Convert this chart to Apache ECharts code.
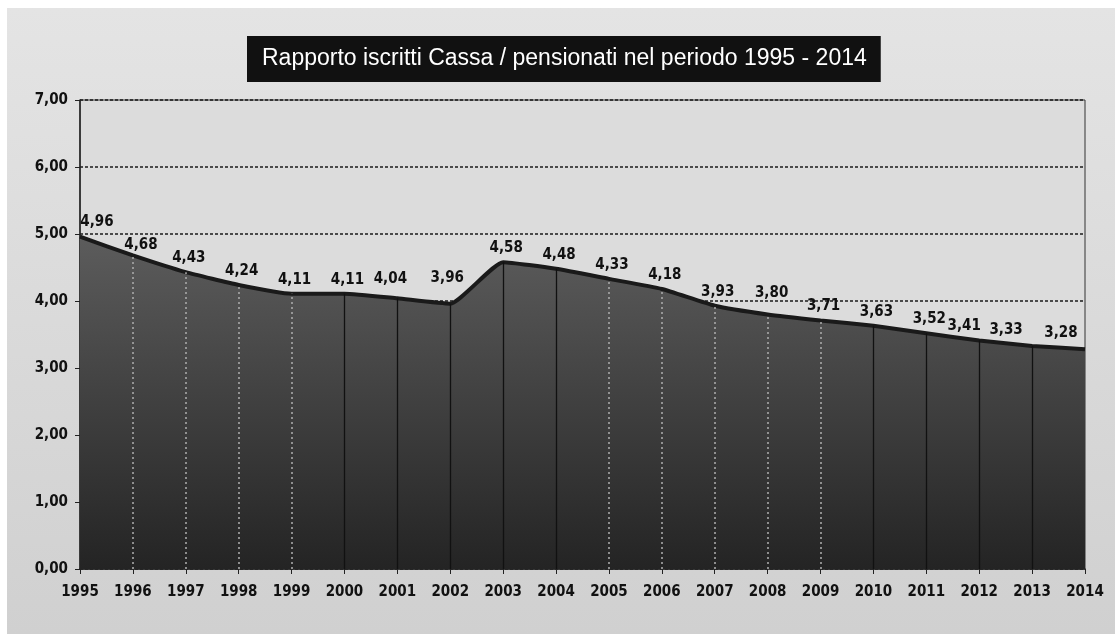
<!DOCTYPE html>
<html>
<head>
<meta charset="utf-8">
<script src="https://cdn.jsdelivr.net/npm/echarts@6/dist/echarts.min.js"></script>
<style>
  html, body { margin: 0; padding: 0; background: #fff; }
  #main { width: 1115px; height: 634px; }
</style>
</head>
<body>
<div id="main"></div>
<script>
// dati: rapporto iscritti / pensionati
var anni = ['1995','1996','1997','1998','1999','2000','2001','2002','2003','2004',
            '2005','2006','2007','2008','2009','2010','2011','2012','2013','2014'];
var rapporto = [4.96, 4.68, 4.43, 4.24, 4.11, 4.11, 4.04, 3.96, 4.58, 4.48,
                4.33, 4.18, 3.93, 3.80, 3.71, 3.63, 3.52, 3.41, 3.33, 3.28];
var yTicks = [0, 1, 2, 3, 4, 5, 6, 7];

var fontLbl = "'DejaVu Sans Condensed', 'DejaVu Sans', sans-serif";
function virgola(v) { return Number(v).toFixed(2).replace('.', ','); }

// anni con linea verticale tratteggiata chiara (gli altri pieni scuri)
var tratteggiati = ['1996','1997','1998','1999','2005','2006','2007','2008','2009'];

// etichette spostate come nell'originale (excel le sposta per non sovrapporle)
var spostamenti = {
    '1995': [17, -1], '1996': [8, 4], '2001': [-7, -5], '2002': [-3, -12],
    '2008': [4, -7], '2012': [-15, 0], '2013': [-26, -2], '2014': [-24, -2]
};

var drop = [];
for (var i = 1; i < anni.length - 1; i++) {
    var dotted = tratteggiati.indexOf(anni[i]) >= 0;
    drop.push([
        { coord: [anni[i], 0], lineStyle: dotted ? { color: '#a8a8a8', type: [2, 3], width: 1.6 } : { color: '#111', type: 'solid', width: 1.3 } },
        { coord: [anni[i], rapporto[i]] }
    ]);
}

var punti = rapporto.map(function (v, i) {
    var off = spostamenti[anni[i]];
    if (off) return { value: v, label: { offset: off } };
    return v;
});

var chart = echarts.init(document.getElementById('main'));
var option = {
    backgroundColor: '#ffffff',
    animation: false,
    graphic: [{
        type: 'rect',
        z: -10,
        shape: { x: 7, y: 8, width: 1108, height: 626 },
        style: {
            fill: new echarts.graphic.LinearGradient(0, 0, 0, 1, [
                { offset: 0, color: '#e4e4e4' },
                { offset: 1, color: '#d0d0d0' }
            ])
        }
    }],
    title: {
        text: 'Rapporto iscritti Cassa / pensionati nel periodo 1995 - 2014',
        left: 247,
        top: 36,
        backgroundColor: '#111111',
        padding: [11, 14, 11, 15],
        textStyle: {
            color: '#ffffff',
            fontFamily: "'Liberation Sans', Arial, sans-serif",
            fontWeight: 'normal',
            fontSize: 23,
            lineHeight: 24
        }
    },
    grid: {
        left: 80, right: 30, top: 100, bottom: 65,
        show: true,
        backgroundColor: '#dcdcdc',
        borderColor: '#333',
        borderWidth: 1
    },
    xAxis: {
        type: 'category',
        data: anni,
        boundaryGap: false,
        axisLine: { lineStyle: { color: '#222', width: 1.5 } },
        axisTick: { show: true, length: 5, inside: false, lineStyle: { color: '#222' } },
        axisLabel: {
            color: '#111', fontSize: 15, fontWeight: 'bold',
            fontFamily: fontLbl, margin: 16
        },
        splitLine: { show: false }
    },
    yAxis: {
        type: 'value',
        min: 0, max: 7, interval: 1,
        axisLine: { show: true, lineStyle: { color: '#222', width: 1.5 } },
        axisTick: { show: true, length: 5, lineStyle: { color: '#222' } },
        axisLabel: {
            color: '#111', fontSize: 15, fontWeight: 'bold',
            fontFamily: fontLbl, margin: 12,
            formatter: function (v) { return yTicks.indexOf(v) >= 0 ? virgola(v) : ''; }
        },
        splitLine: { show: true, lineStyle: { color: '#1a1a1a', type: [3, 2], width: 1.5 } }
    },
    series: [{
        type: 'line',
        data: punti,
        smooth: 0.15,
        symbol: 'circle',
        symbolSize: 1,
        showSymbol: true,
        itemStyle: { color: 'rgba(0,0,0,0)' },
        lineStyle: { color: '#1a1a1a', width: 4 },
        areaStyle: {
            opacity: 1,
            color: new echarts.graphic.LinearGradient(0, 0, 0, 1, [
                { offset: 0, color: '#5c5c5c' },
                { offset: 1, color: '#242424' }
            ])
        },
        label: {
            show: true,
            position: 'top',
            distance: 6,
            offset: [3, 0],
            color: '#111',
            fontSize: 15,
            fontWeight: 'bold',
            fontFamily: fontLbl,
            formatter: function (p) { return virgola(p.value); }
        },
        markLine: {
            silent: true,
            symbol: 'none',
            label: { show: false },
            data: drop
        }
    }]
};
chart.setOption(option);
</script>
</body>
</html>
